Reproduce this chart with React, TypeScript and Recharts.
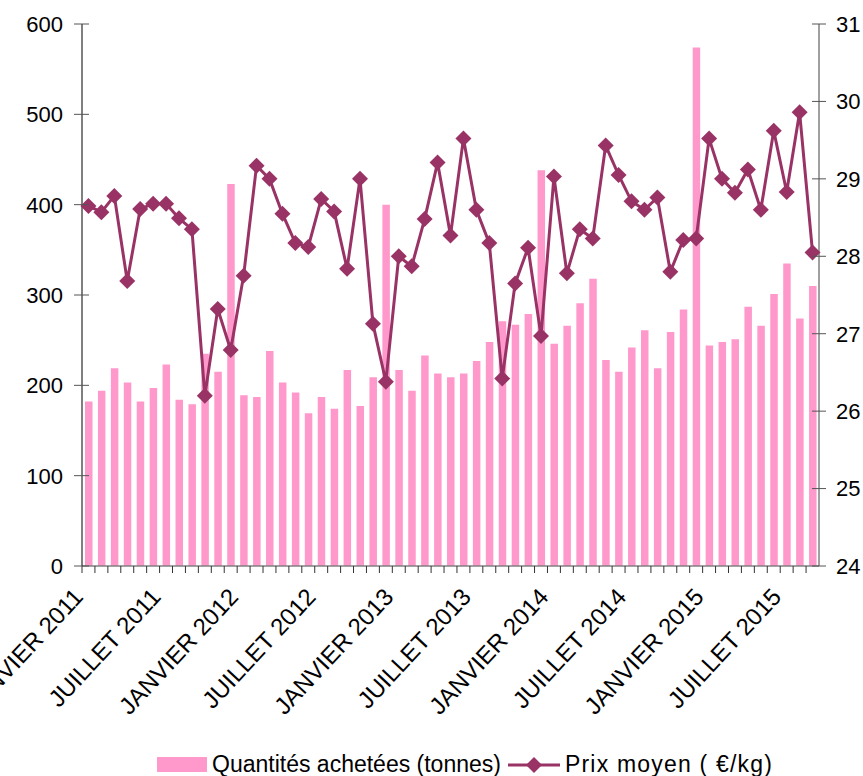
import { ComposedChart, Bar, Line, XAxis, YAxis } from 'recharts'

const MOIS = ['JANVIER', 'FEVRIER', 'MARS', 'AVRIL', 'MAI', 'JUIN', 'JUILLET', 'AOUT', 'SEPTEMBRE', 'OCTOBRE', 'NOVEMBRE', 'DECEMBRE']
const ANNEES = [2011, 2012, 2013, 2014, 2015]
const NB_MOIS = 57 // janvier 2011 -> septembre 2015

const categories: string[] = []
ANNEES.forEach((a) => MOIS.forEach((m) => categories.push(`${m} ${a}`)))
categories.length = NB_MOIS

const quantites = [
  182, 194, 219, 203, 182, 197, 223, 184, 179, 235, 215, 423,
  189, 187, 238, 203, 192, 169, 187, 174, 217, 177, 209, 400,
  217, 194, 233, 213, 209, 213, 227, 248, 271, 267, 279, 438,
  246, 266, 291, 318, 228, 215, 242, 261, 219, 259, 284, 574,
  244, 248, 251, 287, 266, 301, 335, 274, 310,
]

const prix = [
  28.65, 28.57, 28.78, 27.68, 28.61, 28.68, 28.68, 28.49, 28.35, 26.2, 27.32, 26.79,
  27.75, 29.17, 29.0, 28.55, 28.17, 28.12, 28.74, 28.58, 27.84, 29.0, 27.13, 26.38,
  28.0, 27.87, 28.48, 29.21, 28.27, 29.52, 28.6, 28.17, 26.42, 27.65, 28.11, 26.97,
  29.03, 27.78, 28.35, 28.23, 29.43, 29.05, 28.71, 28.6, 28.76, 27.8, 28.21, 28.23,
  29.52, 29.0, 28.82, 29.12, 28.6, 29.62, 28.83, 29.86, 28.05,
]

const ticksGauche = [0, 100, 200, 300, 400, 500, 600]
const ticksDroite = [24, 25, 26, 27, 28, 29, 30, 31]

const data = categories.map((mois, i) => ({ mois, quantite: quantites[i], prix: prix[i] }))

const ROSE = '#FF99CC'
const PRUNE = '#993366'
const FONT = '"Liberation Sans", Arial, sans-serif'

const W = 863
const H = 776
const AXE_G = 82
const AXE_D = 819
const BAS = 566
const BANDE = (AXE_D - AXE_G) / NB_MOIS

function TickX({ x, y, payload }: any) {
  const i = categories.indexOf(payload.value)
  const tx = x - 4
  const ty = BAS + 32
  return (
    <g>
      <line x1={x - BANDE / 2} x2={x - BANDE / 2} y1={BAS} y2={BAS + 7} stroke="#333" />
      {i % 6 === 0 && (
        <text
          x={tx}
          y={ty}
          transform={`rotate(-47 ${tx} ${ty})`}
          textAnchor="end"
          fontSize={24}
          fontFamily={FONT}
          fill="#000"
        >
          {payload.value}
        </text>
      )}
    </g>
  )
}

function TickGauche({ y, payload }: any) {
  return (
    <g>
      <line x1={AXE_G - 8} x2={AXE_G + 7} y1={y} y2={y} stroke="#555" />
      <text x={AXE_G - 19} y={y} dy="0.36em" textAnchor="end" fontSize={22} fontFamily={FONT} fill="#000">
        {payload.value}
      </text>
    </g>
  )
}

function TickDroite({ y, payload }: any) {
  return (
    <g>
      <line x1={AXE_D - 7} x2={AXE_D + 7} y1={y} y2={y} stroke="#555" />
      <text x={AXE_D + 17} y={y} dy="0.36em" textAnchor="start" fontSize={22} fontFamily={FONT} fill="#000">
        {payload.value}
      </text>
    </g>
  )
}

function Losange({ cx, cy }: any) {
  if (cx == null || cy == null) return null
  const r = 8
  return <polygon points={`${cx},${cy - r} ${cx + r},${cy} ${cx},${cy + r} ${cx - r},${cy}`} fill={PRUNE} />
}

function Legende() {
  return (
    <div
      style={{
        position: 'absolute',
        left: 157,
        top: 751,
        display: 'flex',
        alignItems: 'center',
        fontFamily: FONT,
        fontSize: 23,
        color: '#000',
        whiteSpace: 'nowrap',
        lineHeight: '27px',
      }}
    >
      <span style={{ display: 'inline-block', width: 50, height: 15, background: ROSE, marginRight: 5 }} />
      <span>Quantités achetées (tonnes)</span>
      <svg width={54} height={20} style={{ margin: '0 4px 0 6px' }}>
        <line x1={1} x2={53} y1={10} y2={10} stroke={PRUNE} strokeWidth={3} />
        <polygon points="27,2 35,10 27,18 19,10" fill={PRUNE} />
      </svg>
      <span style={{ letterSpacing: 1.2 }}>Prix moyen ( €/kg)</span>
    </div>
  )
}

export default function App() {
  return (
    <div style={{ position: 'relative', width: W, height: H, background: '#fff' }}>
      <style>{'body{margin:0}'}</style>
      <ComposedChart width={W} height={H} data={data} margin={{ top: 24, right: 0, bottom: 110, left: 0 }}>
        <XAxis
          dataKey="mois"
          interval={0}
          height={100}
          tickLine={false}
          axisLine={{ stroke: '#808080', strokeWidth: 1.5 }}
          tick={<TickX />}
        />
        <YAxis
          yAxisId="q"
          orientation="left"
          width={AXE_G}
          domain={[0, 600]}
          ticks={ticksGauche}
          interval={0}
          tickLine={false}
          axisLine={{ stroke: '#000' }}
          tick={<TickGauche />}
        />
        <YAxis
          yAxisId="p"
          orientation="right"
          width={W - AXE_D}
          domain={[24, 31]}
          ticks={ticksDroite}
          interval={0}
          tickLine={false}
          axisLine={{ stroke: '#808080', strokeWidth: 1.5 }}
          tick={<TickDroite />}
        />
        <Bar yAxisId="q" dataKey="quantite" fill={ROSE} barSize={7.5} isAnimationActive={false} />
        <Line
          yAxisId="p"
          type="linear"
          dataKey="prix"
          stroke={PRUNE}
          strokeWidth={3}
          dot={<Losange />}
          activeDot={false}
          isAnimationActive={false}
        />
      </ComposedChart>
      <Legende />
    </div>
  )
}
